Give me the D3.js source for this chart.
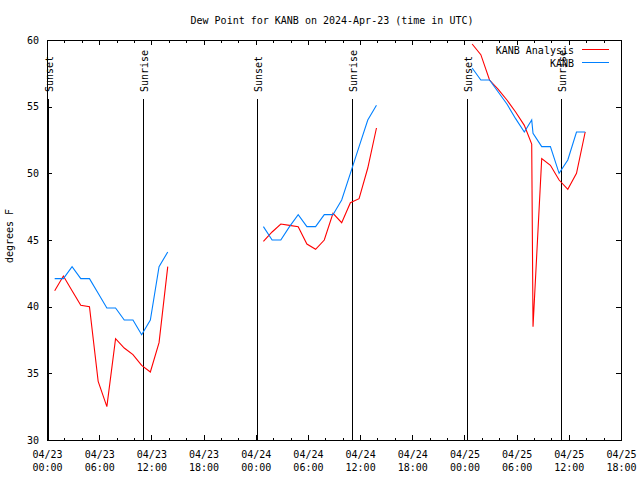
<!DOCTYPE html>
<html><head><meta charset="utf-8">
<script src="https://cdn.jsdelivr.net/npm/d3@7"></script>
<style>
body{margin:0;background:#fff;}
svg{display:block;font-family:"DejaVu Sans Mono",monospace;font-size:10px;}
</style></head>
<body><svg id="c" width="640" height="480"></svg>
<script>
// ---- data ----
const title = "Dew Point for KANB on 2024-Apr-23 (time in UTC)";
const yLabel = "degrees F";
const seriesNames = ["KANB Analysis", "KANB"];
const seriesColors = ["#ff0000", "#0080ff"];

const times1 = ["2024-04-23T00:53Z","2024-04-23T01:53Z","2024-04-23T02:53Z","2024-04-23T03:53Z","2024-04-23T04:53Z","2024-04-23T05:53Z","2024-04-23T06:53Z","2024-04-23T07:53Z","2024-04-23T08:53Z","2024-04-23T09:53Z","2024-04-23T10:53Z","2024-04-23T11:53Z","2024-04-23T12:53Z","2024-04-23T13:53Z"];
const analysis1 = [41.2, 42.3, 41.2, 40.1, 40.0, 34.4, 32.5, 37.6, 36.9, 36.4, 35.6, 35.1, 37.3, 43.0];
const obs1 = [42.1, 42.1, 43.0, 42.1, 42.1, 41.0, 39.9, 39.9, 39.0, 39.0, 37.9, 39.0, 43.0, 44.1];

const times2 = ["2024-04-24T00:53Z","2024-04-24T01:53Z","2024-04-24T02:53Z","2024-04-24T03:53Z","2024-04-24T04:53Z","2024-04-24T05:53Z","2024-04-24T06:53Z","2024-04-24T07:53Z","2024-04-24T08:53Z","2024-04-24T09:53Z","2024-04-24T10:53Z","2024-04-24T11:53Z","2024-04-24T12:53Z","2024-04-24T13:53Z"];
const analysis2 = [44.9, 45.6, 46.2, 46.1, 46.0, 44.7, 44.3, 45.0, 47.0, 46.3, 47.8, 48.1, 50.4, 53.4];
const obs2 = [46.0, 45.0, 45.0, 46.0, 46.9, 46.0, 46.0, 46.9, 46.9, 48.0, 50.0, 52.0, 54.0, 55.1];

const times3 = ["2024-04-25T00:53Z","2024-04-25T01:53Z","2024-04-25T02:53Z","2024-04-25T03:53Z","2024-04-25T04:53Z","2024-04-25T05:53Z","2024-04-25T06:53Z","2024-04-25T07:44Z","2024-04-25T07:53Z","2024-04-25T08:53Z","2024-04-25T09:53Z","2024-04-25T10:53Z","2024-04-25T11:53Z","2024-04-25T12:53Z","2024-04-25T13:53Z"];
const analysis3 = [59.7, 58.9, 57.0, 56.3, 55.5, 54.6, 53.6, 52.2, 38.5, 51.1, 50.6, 49.5, 48.8, 50.0, 53.1];
const obs3 = [57.9, 57.0, 57.0, 56.1, 55.2, 54.1, 53.1, 54.0, 53.0, 52.0, 52.0, 50.0, 51.0, 53.1, 53.1];

const sunTimes = ["2024-04-23T00:09Z","2024-04-23T11:04Z","2024-04-24T00:12Z","2024-04-24T11:06Z","2024-04-25T00:19Z","2024-04-25T11:08Z"];
const sunLabels = ["Sunset","Sunrise","Sunset","Sunrise","Sunset","Sunrise"];

const xDomain = ["2024-04-23T00:00Z","2024-04-25T18:00Z"];
const xMajorTicks = ["2024-04-23T00:00Z","2024-04-23T06:00Z","2024-04-23T12:00Z","2024-04-23T18:00Z","2024-04-24T00:00Z","2024-04-24T06:00Z","2024-04-24T12:00Z","2024-04-24T18:00Z","2024-04-25T00:00Z","2024-04-25T06:00Z","2024-04-25T12:00Z","2024-04-25T18:00Z"];
const yTicks = [30, 35, 40, 45, 50, 55, 60];
const yDomain = [30, 60];

// ---- chart ----
const W = 640, H = 480;
const L = 47, R = 621, T = 40, B = 440;
const svg = d3.select("#c");
const parse = s => new Date(s);

const x = d3.scaleUtc().domain(xDomain.map(parse)).range([L, R]);
const y = d3.scaleLinear().domain(yDomain).range([B, T]);

const majors = xMajorTicks.map(parse);
const minors = d3.utcHour.every(2).range(parse(xDomain[0]), d3.utcSecond.offset(parse(xDomain[1]),1))
  .filter(d => d.getUTCHours() % 6 !== 0);

function styleAxis(g){ g.select(".domain").remove(); g.selectAll("line").attr("stroke","#000").attr("shape-rendering","crispEdges"); g.selectAll("text").attr("font-family","DejaVu Sans Mono, monospace").attr("font-size",10).attr("fill","#000"); }

// bottom axis
const gb = svg.append("g").attr("transform",`translate(0,${B})`)
  .call(d3.axisBottom(x).tickValues(majors).tickSizeInner(-5).tickSizeOuter(0).tickFormat(""));
styleAxis(gb);
gb.selectAll(".tick").each(function(d){
  const t = d3.select(this).append("text").attr("text-anchor","middle").attr("fill","#000")
    .attr("font-family","DejaVu Sans Mono, monospace").attr("font-size",10);
  t.append("tspan").attr("x",0).attr("y",17.5).text(d3.utcFormat("%m/%d")(d));
  t.append("tspan").attr("x",0).attr("y",31).text(d3.utcFormat("%H:%M")(d));
});
styleAxis(svg.append("g").attr("transform",`translate(0,${B})`)
  .call(d3.axisBottom(x).tickValues(minors).tickSizeInner(-2.5).tickSizeOuter(0).tickFormat("")));
// top axis
styleAxis(svg.append("g").attr("transform",`translate(0,${T})`)
  .call(d3.axisTop(x).tickValues(majors).tickSizeInner(-5).tickSizeOuter(0).tickFormat("")));
styleAxis(svg.append("g").attr("transform",`translate(0,${T})`)
  .call(d3.axisTop(x).tickValues(minors).tickSizeInner(-2.5).tickSizeOuter(0).tickFormat("")));
// left axis
styleAxis(svg.append("g").attr("transform",`translate(${L},0)`)
  .call(d3.axisLeft(y).tickValues(yTicks).tickSizeInner(-5).tickSizeOuter(0).tickPadding(8).tickFormat(d3.format("d"))));
// right axis
styleAxis(svg.append("g").attr("transform",`translate(${R},0)`)
  .call(d3.axisRight(y).tickValues(yTicks).tickSizeInner(-5).tickSizeOuter(0).tickFormat("")));

// frame
svg.append("rect").attr("x",L+0.5).attr("y",T+0.5).attr("width",R-L).attr("height",B-T)
  .attr("fill","none").attr("stroke","#000").attr("shape-rendering","crispEdges");

// sun lines
sunTimes.forEach((s,i)=>{
  const xx = Math.round(x(parse(s))) + 0.5;
  svg.append("line").attr("x1",xx).attr("x2",xx).attr("y1",B).attr("y2",99)
    .attr("stroke","#000").attr("stroke-width",1).attr("shape-rendering","crispEdges");
  svg.append("text").attr("transform",`translate(${xx+1},92) rotate(-90)`)
    .attr("dy","0.35em").attr("text-anchor","start").attr("fill","#000").text(sunLabels[i]);
});

// series
const line = d3.line().x(d=>x(d.t)).y(d=>y(d.v));
const segs = [[times1,analysis1,obs1],[times2,analysis2,obs2],[times3,analysis3,obs3]];
segs.forEach(([tt,a,o])=>{
  [a,o].forEach((vals,k)=>{
    const pts = tt.map((s,i)=>({t:parse(s), v:vals[i]}));
    svg.append("path").datum(pts).attr("d",line).attr("fill","none")
      .attr("stroke",seriesColors[k]).attr("stroke-width",1.1);
  });
});

// legend
const legY = [49.5, 62];
const legBase = [54, 66.7];
seriesNames.forEach((n,i)=>{
  svg.append("text").attr("x",574).attr("y",legBase[i]).attr("text-anchor","end").attr("fill","#000").text(n);
  svg.append("line").attr("x1",582).attr("x2",609).attr("y1",legY[i]).attr("y2",legY[i])
    .attr("stroke",seriesColors[i]).attr("stroke-width",1).attr("shape-rendering","crispEdges");
});

// title and y label
svg.append("text").attr("x",332).attr("y",24).attr("text-anchor","middle").attr("fill","#000").text(title);
svg.append("text").attr("transform","translate(13,236) rotate(-90)").attr("text-anchor","middle").attr("fill","#000").text(yLabel);
</script></body></html>
